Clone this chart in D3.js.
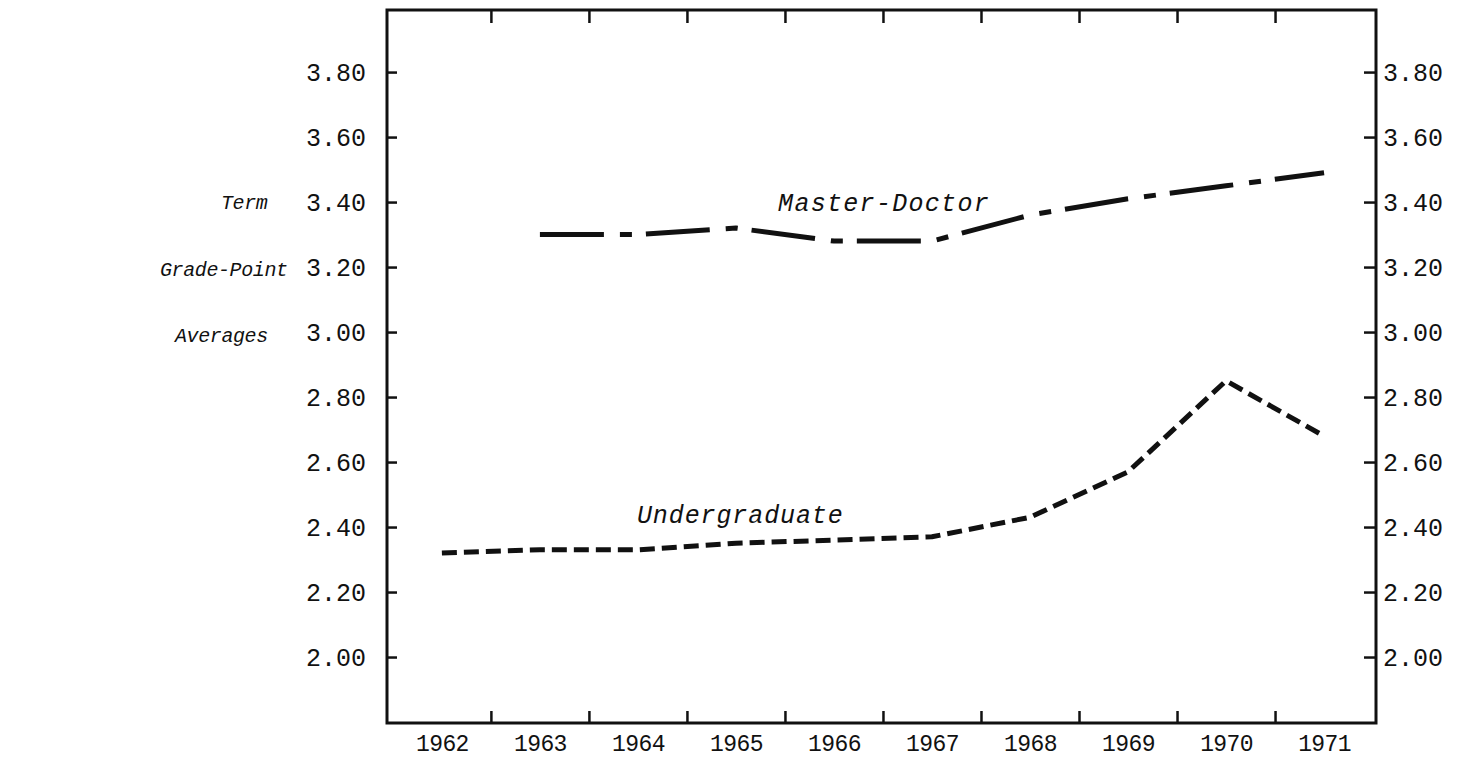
<!DOCTYPE html>
<html lang="en">
<head>
    <meta charset="UTF-8">
    <title>Term Grade-Point Averages</title>
    <script src="https://cdn.jsdelivr.net/npm/d3@7"></script>
    <style>
        body { margin: 0; background: #fff; }
        svg text { font-family: "Liberation Mono", "DejaVu Sans Mono", monospace; fill: #111; }
    </style>
</head>
<body>
    <svg id="chart" width="1462" height="760"></svg>

    <script>
        // values
        const years = [1962, 1963, 1964, 1965, 1966, 1967, 1968, 1969, 1970, 1971];
        const undergraduate = [2.32, 2.33, 2.33, 2.35, 2.36, 2.37, 2.43, 2.57, 2.85, 2.68];
        const masterYears = [1963, 1964, 1965, 1966, 1967, 1968, 1969, 1970, 1971];
        const masterDoctor = [3.30, 3.30, 3.32, 3.28, 3.28, 3.36, 3.41, 3.45, 3.49];
        const yTicks = [2.00, 2.20, 2.40, 2.60, 2.80, 3.00, 3.20, 3.40, 3.60, 3.80];
        const yearBreaks = [1962.5, 1963.5, 1964.5, 1965.5, 1966.5, 1967.5, 1968.5, 1969.5, 1970.5];
        const sideLabel = ['Term', 'Grade-Point', 'Averages'];
        const sideLabelX = [221, 160, 175];

        const svg = d3.select('#chart');
        const plotLeft = 387, plotRight = 1376, plotTop = 10, plotBottom = 723;

        const x = d3.scaleLinear().domain([1961.44, 1971.53]).range([plotLeft, plotRight]);
        const y = d3.scaleLinear().domain([1.797, 3.991]).range([plotBottom, plotTop]);

        const fmt = d3.format('.2f');

        // left axis
        const gl = svg.append('g').attr('transform', `translate(${plotLeft},0)`)
            .call(d3.axisLeft(y).tickValues(yTicks).tickFormat(fmt)
                .tickSizeInner(-10).tickSizeOuter(0).tickPadding(21));
        // right axis
        const gr = svg.append('g').attr('transform', `translate(${plotRight},0)`)
            .call(d3.axisRight(y).tickValues(yTicks).tickFormat(fmt)
                .tickSizeInner(-12).tickSizeOuter(0).tickPadding(7));
        // top axis, ticks only
        const gt = svg.append('g').attr('transform', `translate(0,${plotTop})`)
            .call(d3.axisTop(x).tickValues(yearBreaks).tickFormat('')
                .tickSizeInner(-13).tickSizeOuter(0));
        // bottom axis: ticks between years, labels on years
        const gb = svg.append('g').attr('transform', `translate(0,${plotBottom})`)
            .call(d3.axisBottom(x).tickValues(yearBreaks).tickFormat('')
                .tickSizeInner(-12).tickSizeOuter(0));
        const gbl = svg.append('g').attr('transform', `translate(0,${plotBottom})`)
            .call(d3.axisBottom(x).tickValues(years).tickFormat(d3.format('d'))
                .tickSize(0).tickPadding(12));

        [gl, gr, gt, gb, gbl].forEach(g => {
            g.select('.domain').remove();
            g.selectAll('.tick line').attr('stroke', '#111').attr('stroke-width', 2.5);
            g.selectAll('text').attr('font-size', 25).attr('letter-spacing', 0)
                .style('font-family', '"Liberation Mono", monospace').attr('fill', '#111');
        });
        gbl.selectAll('text').attr('font-size', 23).attr('letter-spacing', -0.6);

        // frame
        svg.append('rect')
            .attr('x', plotLeft).attr('y', plotTop)
            .attr('width', plotRight - plotLeft).attr('height', plotBottom - plotTop)
            .attr('fill', 'none').attr('stroke', '#111').attr('stroke-width', 3);

        const line = d3.line()
            .x(d => x(d[0]))
            .y(d => y(d[1]));

        svg.append('path')
            .datum(masterYears.map((yr, i) => [yr, masterDoctor[i]]))
            .attr('d', line)
            .attr('fill', 'none')
            .attr('stroke', '#111')
            .attr('stroke-width', 5)
            .attr('stroke-linejoin', 'round')
            .attr('stroke-dasharray', '64,16,12,14');

        svg.append('path')
            .datum(years.map((yr, i) => [yr, undergraduate[i]]))
            .attr('d', line)
            .attr('fill', 'none')
            .attr('stroke', '#111')
            .attr('stroke-width', 5)
            .attr('stroke-linejoin', 'round')
            .attr('stroke-dasharray', '15,7');

        // series labels
        svg.append('text')
            .attr('x', x(1965.43)).attr('y', y(3.372))
            .attr('font-size', 25).attr('font-style', 'italic').attr('letter-spacing', 1.3)
            .text('Master-Doctor');
        svg.append('text')
            .attr('x', x(1963.99)).attr('y', y(2.413))
            .attr('font-size', 25).attr('font-style', 'italic').attr('letter-spacing', 0.9)
            .text('Undergraduate');

        // side title
        svg.append('g').selectAll('text')
            .data(sideLabel)
            .join('text')
            .attr('x', (d, i) => sideLabelX[i])
            .attr('y', (d, i) => y(3.40) + 7 + i * 66.5)
            .attr('font-size', 20)
            .attr('font-style', 'italic')
            .attr('letter-spacing', -0.4)
            .text(d => d);
    </script>
</body>
</html>
